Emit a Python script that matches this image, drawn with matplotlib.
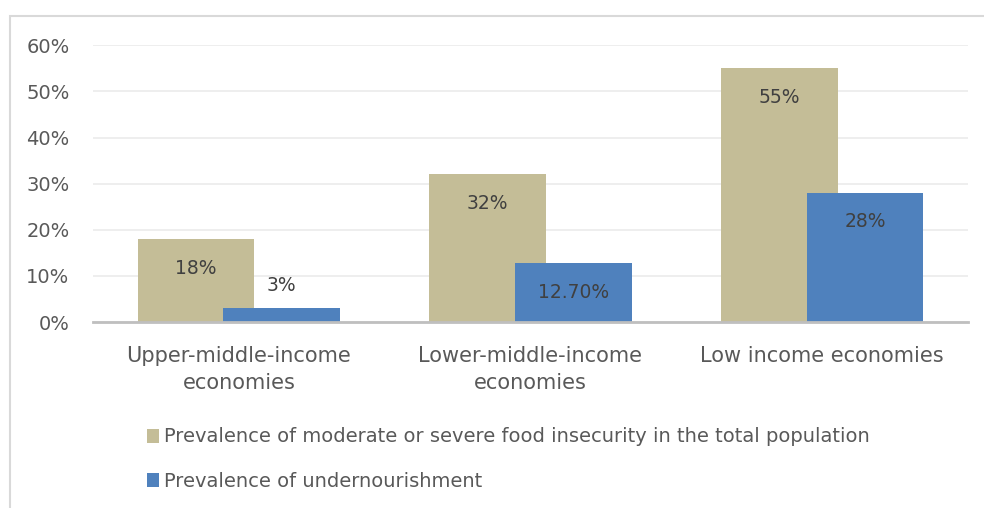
import numpy as np
import matplotlib
matplotlib.use('Agg')
import matplotlib.pyplot as plt
from matplotlib.patches import Rectangle, Patch

# data
categories = ['Upper-middle-income\neconomies', 'Lower-middle-income\neconomies', 'Low income economies']
food_insecurity = [0.18, 0.32, 0.55]
undernourishment = [0.03, 0.127, 0.28]
food_labels = ['18%', '32%', '55%']
under_labels = ['3%', '12.70%', '28%']
series_names = ['Prevalence of moderate or severe food insecurity in the total population',
                'Prevalence of undernourishment']

tan = '#C4BD97'
blue = '#4F81BD'
text_col = '#404040'
tick_col = '#595959'

W, H = 984, 508
fig = plt.figure(figsize=(W/100, H/100), dpi=100)
fig.patch.set_facecolor('white')

# chart frame (only left/top visible in the crop)
fig.add_artist(Rectangle((10/W, -0.1), 1.2, (H - 16)/H + 0.1, transform=fig.transFigure,
                         fill=False, edgecolor='#D9D9D9', linewidth=1.5))

ax = fig.add_axes([93/W, 186/H, 875/W, 277/H])
x = np.arange(len(categories))
width = 0.4
offset = 0.147

b1 = ax.bar(x - offset, food_insecurity, width, color=tan, zorder=2)
b2 = ax.bar(x + offset, undernourishment, width, color=blue, zorder=3)

def label_bars(bars, labels):
    for bar, lab in zip(bars, labels):
        top = bar.get_height()
        cx = bar.get_x() + bar.get_width()/2
        if top > 0.09:
            y = top - 0.063
        else:
            y = top + 0.05
        ax.text(cx, y, lab, ha='center', va='center', fontsize=13.5,
                color=text_col, zorder=4)

label_bars(b1, food_labels)
label_bars(b2, under_labels)

ax.set_xlim(-0.5, 2.5)
ax.set_ylim(0, 0.6008)
ax.set_yticks(np.arange(0, 0.61, 0.1))
ax.set_yticklabels(['{:.0f}%'.format(v*100) for v in np.arange(0, 0.61, 0.1)])
ax.set_xticks(x)
ax.set_xticklabels(categories, linespacing=1.45)
ax.tick_params(axis='y', length=0, labelsize=14, labelcolor=tick_col, pad=17)
ax.tick_params(axis='x', length=0, labelsize=15, labelcolor=tick_col, pad=17)
ax.grid(axis='y', color='#EBEBEB', linewidth=1.2, zorder=0)
ax.set_axisbelow(True)
for s in ['top', 'right', 'left']:
    ax.spines[s].set_visible(False)
ax.spines['bottom'].set_color('#BFBFBF')
ax.spines['bottom'].set_linewidth(2)
ax.spines['bottom'].set_zorder(5)

handles = [Patch(facecolor=tan), Patch(facecolor=blue)]
fig.legend(handles, series_names, loc='upper left', bbox_to_anchor=(129/W, 1 - 410/H),
           frameon=False, labelcolor=tick_col,
           handlelength=0.65, handleheight=0.75, handletextpad=0.25, labelspacing=1.3,
           prop={'family': ['Liberation Sans Narrow', 'DejaVu Sans'], 'size': 14})

fig.savefig('out.png', dpi=100, facecolor='white')
